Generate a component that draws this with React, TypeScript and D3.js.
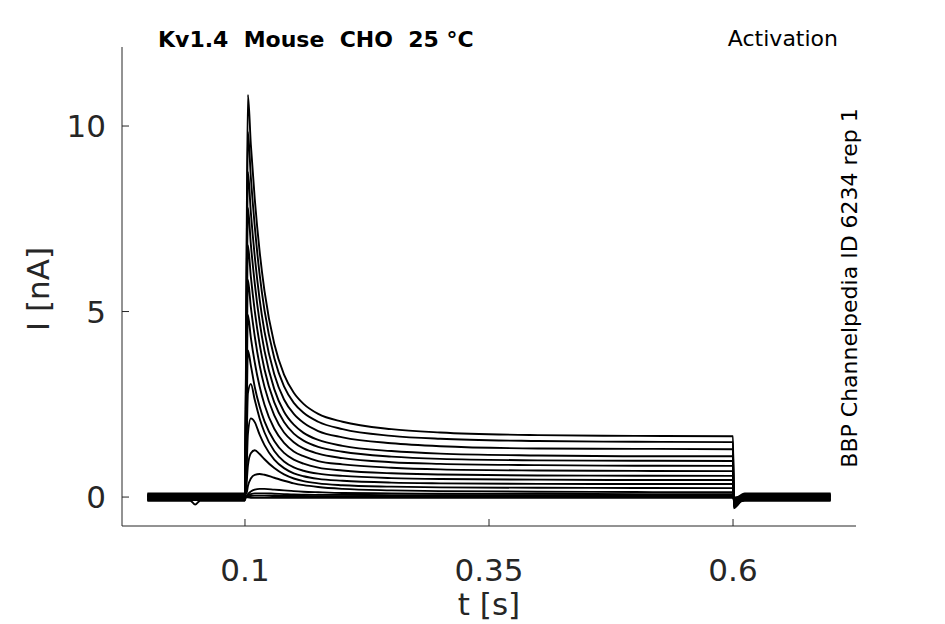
import React from "react";
import * as d3 from "d3";

const W = 945;
const H = 624;

const xTicks = [0.1, 0.35, 0.6];
const yTicks = [0, 5, 10];

// sample times during the voltage step (s)
const pulseT = [0.1015, 0.103, 0.106, 0.11, 0.115, 0.12, 0.13, 0.14, 0.15, 0.16, 0.175, 0.2, 0.25, 0.3, 0.4, 0.5, 0.6];

// current (nA)
const sweeps = [
  [6.0, 10.84, 9.5, 8.04, 6.62, 5.55, 4.13, 3.3, 2.81, 2.51, 2.24, 2.03, 1.83, 1.74, 1.67, 1.65, 1.64],
  [5.4, 9.84, 8.62, 7.3, 6.0, 5.03, 3.75, 2.98, 2.54, 2.27, 2.03, 1.83, 1.65, 1.57, 1.51, 1.49, 1.48],
  [4.8, 8.76, 7.67, 6.49, 5.33, 4.46, 3.31, 2.63, 2.24, 2.0, 1.78, 1.61, 1.45, 1.37, 1.31, 1.3, 1.29],
  [4.2, 7.79, 6.81, 5.76, 4.72, 3.94, 2.91, 2.3, 1.95, 1.73, 1.54, 1.38, 1.24, 1.17, 1.12, 1.1, 1.1],
  [3.6, 6.79, 5.94, 5.02, 4.12, 3.44, 2.55, 2.02, 1.71, 1.52, 1.35, 1.22, 1.09, 1.03, 0.99, 0.98, 0.97],
  [3.0, 5.85, 5.12, 4.33, 3.55, 2.97, 2.2, 1.74, 1.48, 1.31, 1.17, 1.05, 0.94, 0.895, 0.86, 0.845, 0.84],
  [2.4, 4.91, 4.3, 3.63, 2.98, 2.49, 1.84, 1.46, 1.23, 1.1, 0.97, 0.88, 0.79, 0.745, 0.715, 0.705, 0.7],
  [1.8, 3.95, 3.55, 2.97, 2.44, 2.04, 1.51, 1.19, 1.01, 0.9, 0.795, 0.716, 0.64, 0.61, 0.58, 0.575, 0.57],
  [1.2, 2.8, 3.05, 2.62, 2.12, 1.74, 1.24, 0.96, 0.8, 0.71, 0.63, 0.57, 0.51, 0.485, 0.47, 0.46, 0.46],
  [0.6, 1.7, 2.12, 2.02, 1.68, 1.4, 1.01, 0.78, 0.64, 0.56, 0.49, 0.44, 0.39, 0.37, 0.355, 0.35, 0.35],
  [0.3, 0.85, 1.18, 1.26, 1.16, 1.02, 0.78, 0.61, 0.5, 0.43, 0.37, 0.32, 0.28, 0.26, 0.25, 0.245, 0.24],
  [0.1, 0.3, 0.5, 0.6, 0.62, 0.6, 0.52, 0.44, 0.37, 0.32, 0.27, 0.22, 0.18, 0.16, 0.145, 0.135, 0.13],
  [0.03, 0.08, 0.15, 0.2, 0.22, 0.22, 0.2, 0.18, 0.16, 0.145, 0.13, 0.11, 0.1, 0.09, 0.085, 0.08, 0.08],
  [0.02, 0.05, 0.08, 0.1, 0.1, 0.1, 0.09, 0.08, 0.07, 0.065, 0.06, 0.06, 0.05, 0.05, 0.05, 0.05, 0.05],
  [0.01, 0.02, 0.03, 0.04, 0.04, 0.04, 0.03, 0.03, 0.03, 0.03, 0.02, 0.02, 0.02, 0.02, 0.02, 0.02, 0.02],
  [0, -0.01, -0.02, -0.02, -0.02, -0.02, -0.02, -0.02, -0.02, -0.02, -0.02, -0.02, -0.02, -0.02, -0.02, -0.02, -0.02],
];

// holding current of each sweep before / after the step
const holds = [0.02, -0.05, 0.06, -0.08, 0.03, -0.02, 0.08, -0.1, 0.0, 0.05, -0.06, 0.1, -0.03, 0.04, -0.07, 0.01];
// tail dip right after the step ends
const tailDips = [-0.3, -0.27, -0.24, -0.21, -0.19, -0.17, -0.15, -0.13, -0.11, -0.09, -0.07, -0.05, -0.03, -0.02, -0.02, -0.02];

// small artefact before the step on one sweep
const preDipSweep = 7;
const preDipT = [0.044, 0.049, 0.054];
const preDipV = [-0.1, -0.2, -0.1];

const fontFamily = "'DejaVu Sans', sans-serif";
const ink = "#262626";

function App() {
  const x = d3.scaleLinear().domain([-0.026, 0.726]).range([122, 856]);
  const y = d3.scaleLinear().domain([-0.78, 12.13]).range([526, 47]);

  const line = d3
    .line<[number, number]>()
    .x((d) => x(d[0]))
    .y((d) => y(d[1]))
    .curve(d3.curveMonotoneX);

  const paths = sweeps.map((vals, i) => {
    const h = holds[i];
    const pts: [number, number][] = [[0, h]];
    if (i === preDipSweep) {
      preDipT.forEach((t, j) => pts.push([t, preDipV[j]]));
    }
    pts.push([0.1, h]);
    pulseT.forEach((t, j) => pts.push([t, vals[j]]));
    pts.push([0.6008, tailDips[i]]);
    pts.push([0.612, h]);
    pts.push([0.7, h]);
    return line(pts) || "";
  });

  const [x0, x1] = x.range();
  const [y0, y1] = y.range();

  return (
    <div style={{ position: "absolute", left: 0, top: 0 }}>
      <svg width={W} height={H} style={{ display: "block", background: "#fff" }}>
        <g fill="none" stroke="#000" strokeWidth={1.9} strokeLinejoin="round">
          {paths.map((d, i) => (
            <path key={i} d={d} />
          ))}
        </g>

        {/* axes */}
        <g stroke={ink} strokeWidth={1}>
          <line x1={x0} x2={x0} y1={y1} y2={y0} />
          <line x1={x0} x2={x1} y1={y0} y2={y0} />
          {xTicks.map((t) => (
            <line key={"xt" + t} x1={x(t)} x2={x(t)} y1={y0} y2={y0 - 7} />
          ))}
          {yTicks.map((t) => (
            <line key={"yt" + t} x1={x0} x2={x0 + 7} y1={y(t)} y2={y(t)} />
          ))}
        </g>

        <g fontFamily={fontFamily} fill={ink} fontSize={31}>
          {xTicks.map((t) => (
            <text key={"xl" + t} x={x(t)} y={581} textAnchor="middle">
              {String(t)}
            </text>
          ))}
          {yTicks.map((t) => (
            <text key={"yl" + t} x={106} y={y(t)} dy="0.36em" textAnchor="end">
              {String(t)}
            </text>
          ))}
          <text x={489} y={615} textAnchor="middle">
            t [s]
          </text>
          <text transform="translate(49,289) rotate(-90)" textAnchor="middle">
            I [nA]
          </text>
        </g>

        <g fontFamily={fontFamily} fontSize={22} fill="#000">
          <text x={158} y={47} fontWeight="bold" style={{ whiteSpace: "pre" }}>
            {"Kv1.4  Mouse  CHO  25 °C"}
          </text>
          <text x={838} y={46} textAnchor="end">
            Activation
          </text>
          <text transform="translate(857,288) rotate(-90)" textAnchor="middle">
            BBP Channelpedia ID 6234 rep 1
          </text>
        </g>
      </svg>
    </div>
  );
}

export default App;
